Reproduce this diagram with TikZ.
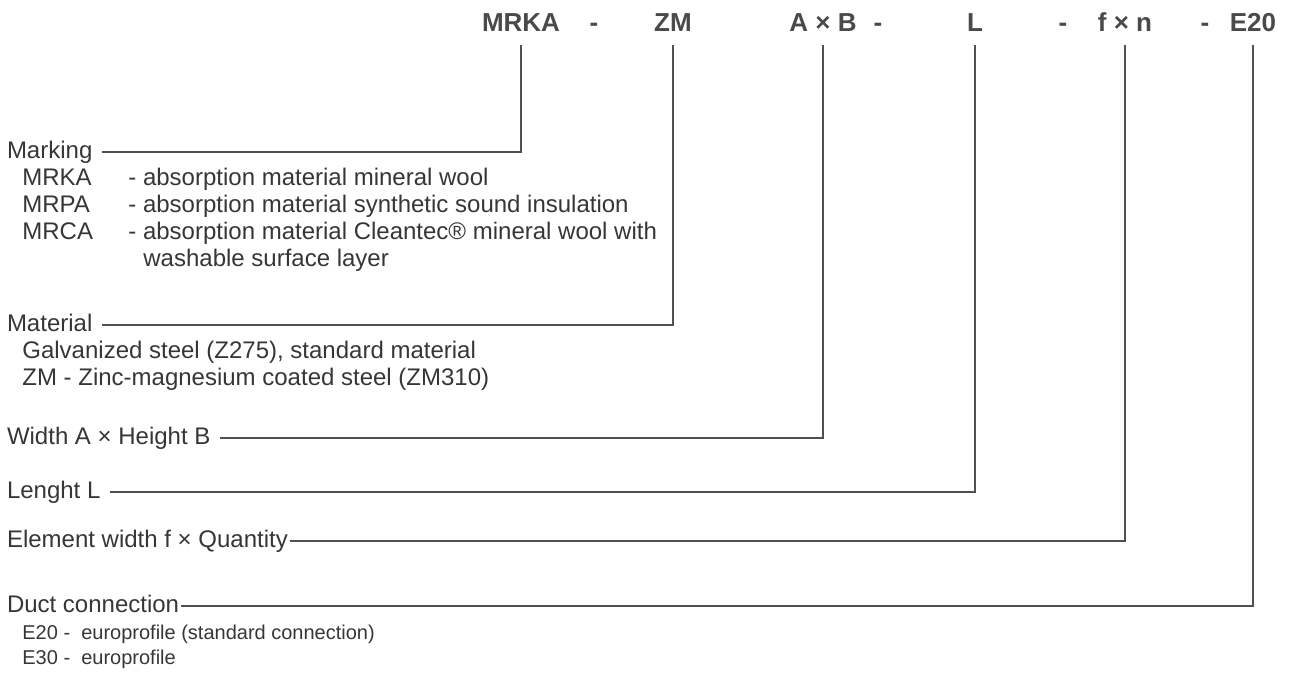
\documentclass[tikz,border=0pt]{standalone}
\usepackage{fontspec}
\setmainfont{Liberation Sans}
\usetikzlibrary{positioning}
\definecolor{inkgray}{HTML}{363636}
\definecolor{linegray}{HTML}{505050}
\tikzset{
  codetext/.style={anchor=base, inner sep=0pt, outer ysep=7pt, font=\fontsize{13}{15}\selectfont\bfseries, text=inkgray!90!white},
  headtext/.style={anchor=base west, inner sep=0pt, outer xsep=5pt, text height=9pt, text depth=2.5pt, font=\fontsize{12}{14}\selectfont, text=inkgray},
  subtext/.style={anchor=base west, inner sep=0pt, font=\fontsize{12}{14}\selectfont, text=inkgray},
  smalltext/.style={subtext, font=\fontsize{10}{12}\selectfont},
  leader/.style={draw=linegray, line width=1pt}
}

\begin{document}
\begin{tikzpicture}[x=0.5pt, y=-0.5pt]
  \useasboundingbox (0,0) rectangle (1289,677);

  % type code
  \node[codetext] (mrka) at (521,31) {MRKA};
  \node[codetext] (dash1) at (594,31) {-};
  \node[codetext] (zm) at (673,31) {ZM};
  \node[codetext] (axb) at (823,31) {A × B};
  \node[codetext] (dash2) at (878,31) {-};
  \node[codetext] (len) at (975,31) {L};
  \node[codetext] (dash3) at (1063,31) {-};
  \node[codetext] (fxn) at (1125,31) {f × n};
  \node[codetext] (dash4) at (1205,31) {-};
  \node[codetext] (e20) at (1253,31) {E20};

  % headings
  \node[headtext] (marking) at (-3,158) {Marking};
  \node[headtext] (material) at (-3,331) {Material};
  \node[headtext] (width) at (-3,444) {Width A × Height B};
  \node[headtext] (lenght) at (-3,498) {Lenght L};
  \node[headtext, outer xsep=1pt] (element) at (5,547) {Element width f × Quantity};
  \node[headtext, outer xsep=1pt] (duct) at (5,612) {Duct connection};

  % marking options
  \node[subtext] (mrkaopt) at (22,185) {MRKA};
  \node[subtext] (mrkatxt) at (128,185) {- absorption material mineral wool};
  \node[subtext] (mrpaopt) at (22,212) {MRPA};
  \node[subtext] (mrpatxt) at (128,212) {- absorption material synthetic sound insulation};
  \node[subtext] (mrcaopt) at (22,239) {MRCA};
  \node[subtext] (mrcatxt) at (128,239) {- absorption material Cleantec® mineral wool with};
  \node[subtext] (mrcamore) at (143,266) {washable surface layer};

  % material options
  \node[subtext] (galv) at (22,358) {Galvanized steel (Z275), standard material};
  \node[subtext] (zmopt) at (22,385) {ZM - Zinc-magnesium coated steel (ZM310)};

  % connection options
  \node[smalltext] (e20opt) at (22,639) {E20 - \ europrofile (standard connection)};
  \node[smalltext] (e30opt) at (22,664) {E30 - \ europrofile};

  \draw[leader] (mrka.south) |- (marking.east);
  \draw[leader] (zm.south) |- (material.east);
  \draw[leader] (axb.south) |- (width.east);
  \draw[leader] (len.south) |- (lenght.east);
  \draw[leader] (fxn.south) |- (element.east);
  \draw[leader] (e20.south) |- (duct.east);
\end{tikzpicture}
\end{document}
